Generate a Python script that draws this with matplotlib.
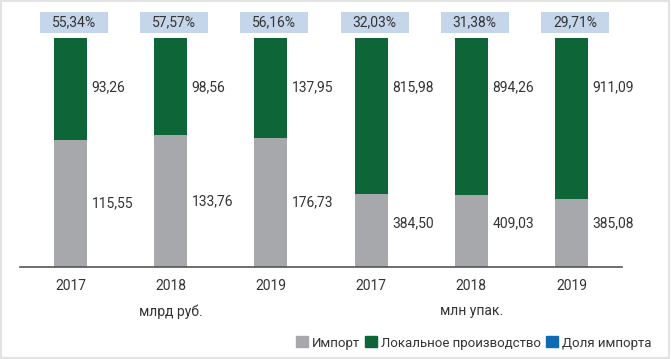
import matplotlib
matplotlib.use("Agg")
import matplotlib.pyplot as plt
from matplotlib.patches import Patch, Rectangle

years = ["2017", "2018", "2019", "2017", "2018", "2019"]
units = ["млрд руб.", "млн упак."]
imports = [115.55, 133.76, 176.73, 384.50, 409.03, 385.08]
local = [93.26, 98.56, 137.95, 815.98, 894.26, 911.09]
share_labels = ["55,34%", "57,57%", "56,16%", "32,03%", "31,38%", "29,71%"]

GRAY = "#a7a8ac"
GREEN = "#0e6638"
BLUE = "#0f6ab4"
BOX = "#c5d5ea"
TXT = "#333333"

plt.rcParams["font.family"] = ["Roboto", "DejaVu Sans"]

fig = plt.figure(figsize=(6.71, 3.59), dpi=100)
ax = fig.add_axes([20 / 671, (359 - 267) / 359, 602 / 671, 229 / 359])

x = list(range(len(years)))
imp_pct = [i / (i + l) * 100 for i, l in zip(imports, local)]
loc_pct = [100 - p for p in imp_pct]

ax.bar(x, imp_pct, width=0.33, color=GRAY, zorder=2)
ax.bar(x, loc_pct, width=0.33, bottom=imp_pct, color=GREEN, zorder=2)

fmt = lambda v: f"{v:.2f}".replace(".", ",")
for xi, ip, iv, lv, lab in zip(x, imp_pct, imports, local, share_labels):
    ax.text(xi + 0.21, 78.6, fmt(lv), ha="left", va="center", fontsize=10, color=TXT)
    ax.text(xi + 0.21, max(ip / 2, 19.2), fmt(iv), ha="left", va="center", fontsize=10, color=TXT)
    ax.add_patch(Rectangle((xi + 0.035 - 0.34, 102.2), 0.68, 9.2, facecolor=BOX,
                           edgecolor="none", clip_on=False))
    ax.text(xi + 0.035, 106.8, lab, ha="center", va="center", fontsize=10, color=TXT)

ax.set_xlim(-0.505, 5.505)
ax.set_ylim(0, 100)
ax.set_xticks(x)
ax.set_xticklabels(years, fontsize=10, color=TXT)
ax.tick_params(axis="x", length=0, pad=9)
ax.set_yticks([])
for s in ["top", "right", "left"]:
    ax.spines[s].set_visible(False)
ax.spines["bottom"].set_color("#555555")
ax.spines["bottom"].set_linewidth(1.2)

# подписи единиц под группами
for gx, u in zip([1, 4], units):
    ax.annotate(u, xy=(gx, 0), xycoords=("data", "axes fraction"), xytext=(0, -32),
                textcoords="offset points", ha="center", va="center", fontsize=10, color=TXT)

handles = [Patch(color=GRAY), Patch(color=GREEN), Patch(color=BLUE)]
fig.legend(handles, ["Импорт", "Локальное производство", "Доля импорта"],
           loc="center right", bbox_to_anchor=(658 / 671, 1 - 343 / 359), ncol=3, frameon=False,
           fontsize=9.5, handlelength=0.9, handleheight=0.9, handletextpad=0.3,
           columnspacing=0.4, labelcolor=TXT, borderpad=0)

fig.patches.append(Rectangle((0.002, 0.003), 0.995, 0.993, transform=fig.transFigure,
                             fill=False, edgecolor="#e3e3e3", linewidth=1.5))

fig.savefig("out.png", dpi=100)
